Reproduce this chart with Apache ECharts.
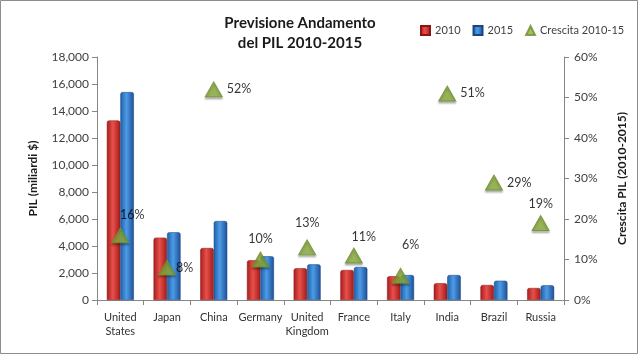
<!DOCTYPE html>
<html><head><meta charset="utf-8">
<script src="https://cdn.jsdelivr.net/npm/echarts@6/dist/echarts.min.js"></script>
<style>html,body{margin:0;padding:0;background:#fff}#c{position:absolute;left:0;top:0;width:640px;height:356px}</style>
</head><body><div id="c"></div>
<script>
const categories = ['United\nStates','Japan','China','Germany','United\nKingdom','France','Italy','India','Brazil','Russia'];
const gdp2010 = [13300,4620,3850,2940,2350,2220,1760,1240,1110,890];
const gdp2015 = [15400,5020,5850,3240,2640,2440,1850,1850,1430,1090];
const growth = [16,8,52,10,13,11,6,51,29,19];
const labelPos = ['top','right','right','top','top','top','top','right','right','top'];

const font = 'Lato, "Open Sans", sans-serif';
const chart = echarts.init(document.getElementById('c'));
function grad(c1,c2,c3){return new echarts.graphic.LinearGradient(0,0,1,0,[{offset:0,color:c1},{offset:0.45,color:c2},{offset:1,color:c3}]);}
const labelOffsets = [[12,-2],[-4,0],[0,0],[0,-2],[0,-6],[10,0],[10,-12],[0,0],[0,0],[0,-1]];
const growthData = growth.map((v,i)=>({value:v,label:{position:labelPos[i],offset:labelOffsets[i]}}));
chart.setOption({
  animation:false,
  textStyle:{fontFamily:font},
  graphic:[{type:'rect',shape:{x:0.5,y:0.5,width:637,height:353},style:{fill:'none',stroke:'#8c8c8c',lineWidth:1},silent:true}],
  title:{text:'Previsione Andamento\ndel PIL 2010-2015',left:295,top:8,textAlign:'center',
    textStyle:{fontSize:15,fontWeight:'bold',color:'#1a1a1a',lineHeight:20,fontFamily:font}},
  legend:{left:415,top:20,itemGap:12,itemWidth:9,itemHeight:9,textStyle:{fontSize:11,color:'#404040',fontFamily:font},
    data:[{name:'2010',icon:'rect'},{name:'2015',icon:'rect'},{name:'Crescita 2010-15',icon:'triangle'}]},
  grid:{left:97,right:76,top:57,bottom:56},
  xAxis:{type:'category',data:categories,
    axisLine:{lineStyle:{color:'#868686'}},
    axisTick:{show:true,length:5,lineStyle:{color:'#868686'}},
    axisLabel:{color:'#333',fontSize:11,lineHeight:14,margin:10,fontFamily:font,interval:0}},
  yAxis:[{type:'value',min:0,max:18000,interval:2000,name:'PIL (miliardi $)',nameLocation:'middle',nameGap:58,
      nameTextStyle:{fontSize:12,fontWeight:'bold',color:'#1a1a1a',fontFamily:font},
      axisLine:{show:true,lineStyle:{color:'#868686'}},axisTick:{show:true,length:5,lineStyle:{color:'#868686'}},
      splitLine:{show:false},
      axisLabel:{color:'#404040',fontSize:12,margin:8,fontFamily:font,formatter:v=>v.toLocaleString('en-US')}},
    {type:'value',min:0,max:60,interval:10,name:'Crescita PIL (2010-2015)',nameLocation:'middle',nameGap:52,nameRotate:90,
      nameTextStyle:{fontSize:12,fontWeight:'bold',color:'#1a1a1a',fontFamily:font},
      axisLine:{show:true,lineStyle:{color:'#868686'}},axisTick:{show:true,length:5,lineStyle:{color:'#868686'}},
      splitLine:{show:false},
      axisLabel:{color:'#404040',fontSize:12,margin:10,fontFamily:font,formatter:'{value}%'}}],
  series:[
    {name:'2010',type:'bar',data:gdp2010,barWidth:13.5,barGap:'0%',
      itemStyle:{color:grad('#a61c1c','#e8504a','#9e1a1a'),borderColor:'#8a1515',borderWidth:0.5,borderRadius:[2,2,0,0]}},
    {name:'2015',type:'bar',data:gdp2015,barWidth:13.5,
      itemStyle:{color:grad('#1d5fa8','#4d9be6','#1c4f96'),borderColor:'#1a4580',borderWidth:0.5,borderRadius:[2,2,0,0]}},
    {name:'Crescita 2010-15',type:'scatter',yAxisIndex:1,data:growthData,symbol:'triangle',symbolSize:[17,15],
      itemStyle:{color:'#8db13f',borderColor:'#6f8f2c',borderWidth:1,shadowColor:'rgba(0,0,0,0.35)',shadowBlur:2,shadowOffsetY:2},
      label:{show:true,formatter:'{c}%',fontSize:12.5,color:'#000',fontFamily:font,distance:4},z:5}
  ]
});
</script></body></html>
